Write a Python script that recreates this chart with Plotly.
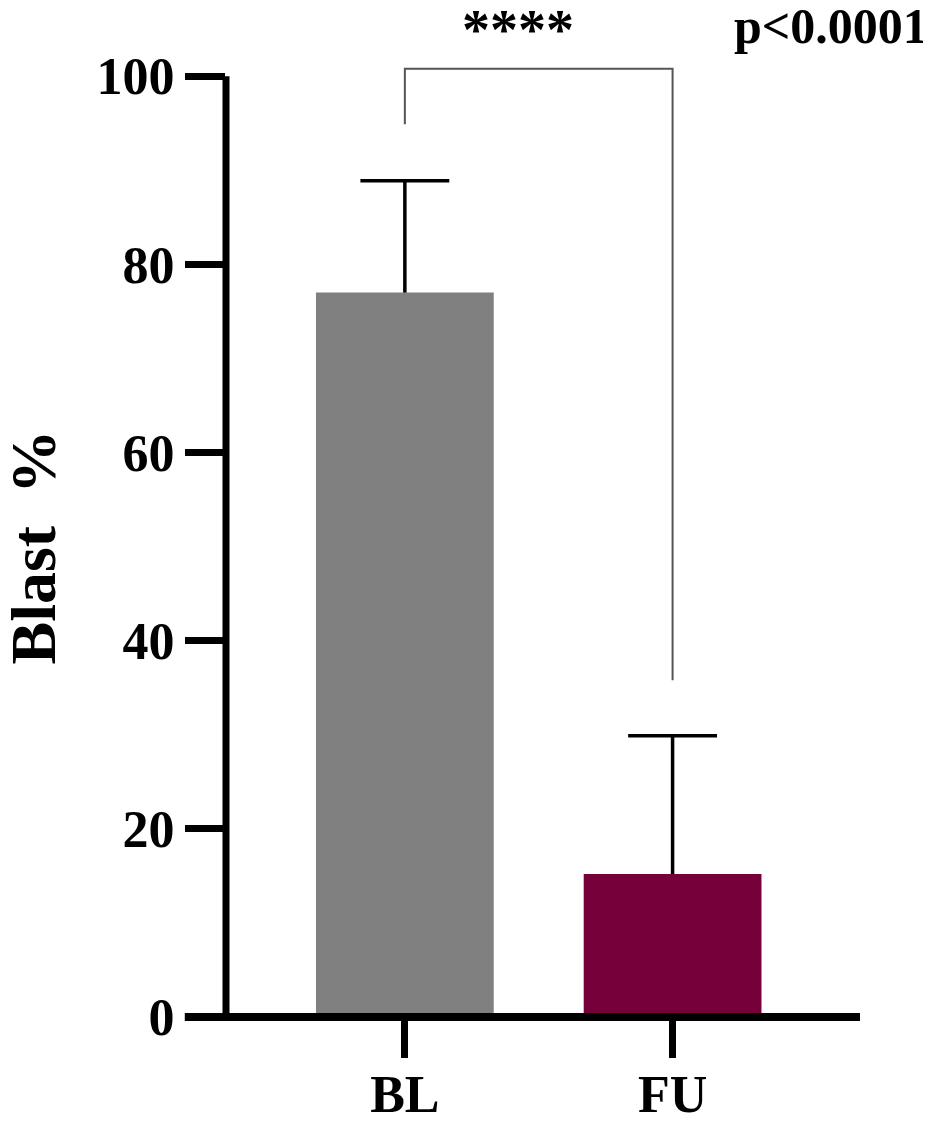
import plotly.graph_objects as go

# group means and SD (upper error only)
groups = ["BL", "FU"]
blast_mean = [77.0, 15.2]
blast_sd = [11.9, 14.7]
bar_colors = ["#808080", "#76003A"]

y_ticks = [0, 20, 40, 60, 80, 100]

# significance bracket ends (values in Blast %)
bracket_left_low = 94.9
bracket_top = 100.8
bracket_right_low = 35.8
stars = "****"
p_text = "p<0.0001"

font_family = "Times New Roman, Liberation Serif, serif"
positions = list(range(len(groups)))

fig = go.Figure()
fig.add_trace(go.Bar(
    x=positions,
    y=blast_mean,
    width=0.664,
    marker=dict(color=bar_colors, line=dict(width=0)),
    hoverinfo="skip",
))

# upper-only whiskers with a cap at the top (no cap on the bar top)
cap = 0.166
wx, wy = [], []
for pos, m, sd in zip(positions, blast_mean, blast_sd):
    wx += [pos, pos, None, pos - cap, pos + cap, None]
    wy += [m, m + sd, None, m + sd, m + sd, None]
fig.add_trace(go.Scatter(x=wx, y=wy, mode="lines",
                         line=dict(color="black", width=3.5), hoverinfo="skip"))

# axis lines drawn by hand so the x line can run past the y axis
fig.add_shape(type="line", xref="x domain", yref="y", x0=0, x1=0, y0=0, y1=100,
              line=dict(color="black", width=7))
fig.add_shape(type="line", xref="x domain", yref="y domain", x0=-0.065, x1=1.0,
              y0=0, y1=0, line=dict(color="black", width=8))

# bracket between groups
fig.add_shape(type="path", xref="x", yref="y",
              path=f"M 0,{bracket_left_low} L 0,{bracket_top} L 1,{bracket_top} L 1,{bracket_right_low}",
              line=dict(color="#555555", width=2))

fig.add_annotation(text=stars, xref="paper", yref="paper", x=0.46, y=1.019,
                   showarrow=False, xanchor="center", yanchor="middle",
                   font=dict(family=font_family, size=56, color="black", weight="bold"))
fig.add_annotation(text=p_text, xref="paper", yref="paper", x=1.11, y=1.023,
                   showarrow=False, xanchor="right", yanchor="middle",
                   font=dict(family=font_family, size=50, color="black", weight="bold"))
fig.add_annotation(text="Blast&nbsp;&nbsp;%", xref="paper", yref="y", x=-0.303, y=50,
                   textangle=-90, showarrow=False, xanchor="center", yanchor="middle",
                   font=dict(family=font_family, size=64, color="black", weight="bold"))

fig.update_layout(
    width=931, height=1131,
    margin=dict(l=218, r=79, t=40, b=122),
    plot_bgcolor="white", paper_bgcolor="white",
    showlegend=False,
    font=dict(family=font_family, color="black", weight="bold"),
)
fig.update_xaxes(range=[-0.668, 1.70], tickvals=positions, ticktext=groups,
                 automargin=False, showline=False, showgrid=False, zeroline=False,
                 ticks="outside", ticklen=40, tickwidth=7, tickcolor="black",
                 ticklabelstandoff=-8,
                 tickfont=dict(size=52, family=font_family, weight="bold"))
fig.update_yaxes(range=[0, 103], tickvals=y_ticks, automargin=False,
                 showline=False, showgrid=False, zeroline=False,
                 ticks="outside", ticklen=40, tickwidth=7, tickcolor="black",
                 tickfont=dict(size=52, family=font_family, weight="bold"))

fig.write_html("out.html")
